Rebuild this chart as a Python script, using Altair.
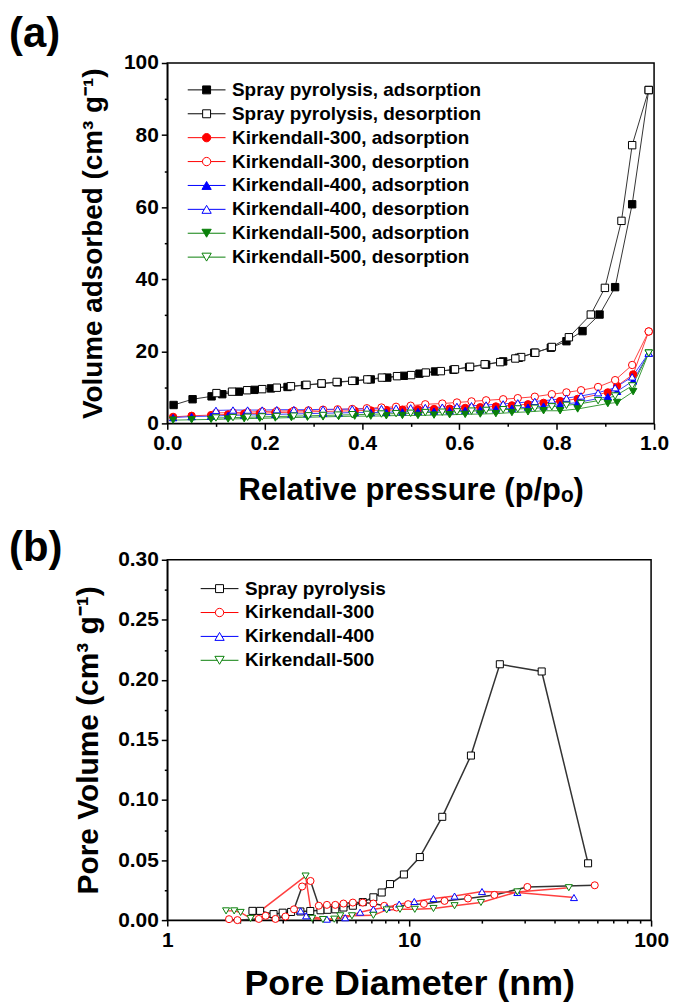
import altair as alt
import pandas as pd

FONT = "Liberation Sans"

# ---------------- Panel (a): N2 isotherms ----------------
sp_ads_p = [0.013, 0.052, 0.091, 0.113, 0.147, 0.179, 0.213, 0.247, 0.283, 0.317, 0.350, 0.385, 0.418, 0.452, 0.486,
            0.518, 0.550, 0.588, 0.620, 0.655, 0.690, 0.722, 0.754, 0.788, 0.820, 0.853, 0.888, 0.920, 0.955, 0.989]
sp_ads_v = [5.1, 6.7, 7.5, 8.1, 8.8, 9.3, 9.7, 10.1, 10.6, 11.0, 11.4, 11.8, 12.2, 12.7, 13.2,
            13.8, 14.4, 14.9, 15.6, 16.3, 17.2, 18.2, 19.6, 21.0, 22.8, 25.6, 30.2, 37.8, 60.8, 92.5]
sp_des_p = [0.989, 0.955, 0.933, 0.899, 0.870, 0.825, 0.790, 0.756, 0.727, 0.715, 0.684, 0.652, 0.622, 0.591, 0.562,
            0.531, 0.501, 0.472, 0.441, 0.411, 0.380, 0.348, 0.317, 0.286, 0.254, 0.225, 0.195, 0.164, 0.133, 0.101]
sp_des_v = [92.5, 77.2, 56.2, 37.6, 30.2, 23.9, 21.2, 19.6, 18.4, 18.0, 17.0, 16.4, 15.7, 15.0, 14.5,
            14.1, 13.4, 13.1, 12.7, 12.2, 11.8, 11.5, 11.1, 10.7, 10.3, 9.9, 9.5, 9.2, 8.8, 8.4]

k_ads_p = [0.012, 0.050, 0.090, 0.125, 0.158, 0.190, 0.222, 0.255, 0.288, 0.320, 0.352, 0.385, 0.418, 0.450, 0.483,
           0.515, 0.548, 0.580, 0.612, 0.643, 0.675, 0.708, 0.741, 0.773, 0.807, 0.843, 0.905, 0.924, 0.957, 0.989]
k300_ads_v = [1.8, 2.1, 2.3, 2.5, 2.7, 2.8, 3.0, 3.1, 3.2, 3.3, 3.4, 3.5, 3.6, 3.7, 3.8,
              3.9, 4.0, 4.1, 4.3, 4.5, 4.7, 5.0, 5.3, 5.7, 6.2, 6.8, 8.6, 10.4, 13.6, 25.5]
k400_ads_v = [1.6, 1.9, 2.0, 2.2, 2.3, 2.4, 2.5, 2.6, 2.7, 2.8, 2.9, 3.0, 3.0, 3.1, 3.2,
              3.3, 3.4, 3.5, 3.6, 3.8, 4.0, 4.2, 4.5, 4.8, 5.2, 5.8, 7.4, 8.9, 11.8, 19.5]
k500_ads_v = [0.9, 1.0, 1.1, 1.2, 1.3, 1.4, 1.5, 1.6, 1.7, 1.8, 1.9, 2.0, 2.0, 2.1, 2.2,
              2.2, 2.3, 2.4, 2.5, 2.6, 2.7, 3.0, 3.2, 3.5, 3.5, 4.0, 5.5, 5.8, 8.8, 19.5]

k_des_p = [0.989, 0.955, 0.920, 0.885, 0.850, 0.820, 0.790, 0.755, 0.720, 0.690, 0.655, 0.625, 0.595, 0.565, 0.530,
           0.500, 0.470, 0.440, 0.410, 0.380, 0.350, 0.320, 0.290, 0.260, 0.225, 0.195, 0.165, 0.135, 0.100]
k300_des_v = [25.5, 16.2, 12.0, 10.1, 9.2, 8.6, 8.1, 7.4, 7.0, 6.7, 6.4, 6.1, 5.8, 5.5, 5.3,
              4.9, 4.6, 4.4, 4.2, 4.0, 3.9, 3.8, 3.6, 3.5, 3.4, 3.3, 3.1, 3.0, 2.9]
k400_des_v = [19.5, 12.9, 9.9, 8.5, 7.6, 7.0, 6.5, 6.1, 5.7, 5.4, 5.1, 4.9, 4.7, 4.5, 4.4,
              4.3, 4.2, 4.1, 4.0, 4.0, 3.9, 3.9, 3.8, 3.8, 3.8, 3.7, 3.7, 3.7, 3.6]
k500_des_v = [19.5, 10.4, 7.6, 6.3, 5.5, 5.0, 4.6, 4.2, 4.0, 3.8, 3.6, 3.4, 3.2, 3.1, 3.0,
              2.8, 2.7, 2.6, 2.5, 2.4, 2.3, 2.2, 2.1, 2.0, 1.9, 1.8, 1.7, 1.6, 1.5]

names_a = ["Spray pyrolysis, adsorption", "Spray pyrolysis, desorption",
           "Kirkendall-300, adsorption", "Kirkendall-300, desorption",
           "Kirkendall-400, adsorption", "Kirkendall-400, desorption",
           "Kirkendall-500, adsorption", "Kirkendall-500, desorption"]

# ---------------- Panel (b): pore size distribution ----------------
sp_d = [2.25, 2.42, 2.75, 3.0, 3.25, 3.55, 3.9, 4.3, 4.6, 4.95, 5.35, 5.85, 6.43, 7.11, 7.7, 8.33, 9.51,
        11.07, 13.7, 18.0, 23.7, 35.3, 54.9]
sp_pv = [0.0077, 0.0077, 0.005, 0.0062, 0.0068, 0.0072, 0.0076, 0.0082, 0.0086, 0.009, 0.0105, 0.012, 0.015,
         0.019, 0.023, 0.030, 0.038, 0.0525, 0.086, 0.137, 0.213, 0.207, 0.0473]
k300_d = [1.8, 1.95, 2.39, 2.55, 2.8, 3.08, 3.34, 3.61, 3.91, 4.23, 4.57, 4.95, 5.35, 5.85, 6.43, 7.11, 7.89,
          8.87, 9.9, 11.5, 14.0, 17.5, 22.5, 30.8, 58.5]
k300_pv = [0.0008, 0.0, 0.001, 0.0036, 0.001, 0.003, 0.009, 0.028, 0.0326, 0.012, 0.0127, 0.0127, 0.0138, 0.0146,
           0.0146, 0.0138, 0.0119, 0.0105, 0.0133, 0.0135, 0.016, 0.018, 0.021, 0.0276, 0.029]
k400_d = [3.56, 3.75, 4.57, 5.44, 6.27, 7.11, 8.07, 9.09, 10.5, 12.6, 15.4, 20.0, 28.0, 48.0]
k400_pv = [0.0077, 0.0036, 0.0008, 0.002, 0.0066, 0.009, 0.0105, 0.0133, 0.0155, 0.018, 0.020, 0.0238, 0.023, 0.0188]
k500_d = [1.75, 1.89, 2.01, 2.21, 3.73, 3.97, 4.4, 4.9, 5.19, 5.8, 7.11, 8.07, 9.16, 10.55, 12.6, 15.4, 19.8,
          28.0, 45.7]
k500_pv = [0.0077, 0.0077, 0.0064, 0.0014, 0.0367, 0.0015, 0.0005, 0.0008, 0.0036, 0.0036, 0.004, 0.0085, 0.009,
           0.009, 0.0097, 0.012, 0.0147, 0.0235, 0.027]

names_b = ["Spray pyrolysis", "Kirkendall-300", "Kirkendall-400", "Kirkendall-500"]

# ---------------- tables ----------------
def table(groups, xname, yname):
    rows = []
    for name, xs, ys in groups:
        for i, (a, b) in enumerate(zip(xs, ys)):
            rows.append({"series": name, xname: a, yname: b, "idx": i})
    return pd.DataFrame(rows)

df_a = table([
    (names_a[0], sp_ads_p, sp_ads_v), (names_a[1], sp_des_p, sp_des_v),
    (names_a[2], k_ads_p, k300_ads_v), (names_a[3], k_des_p, k300_des_v),
    (names_a[4], k_ads_p, k400_ads_v), (names_a[5], k_des_p, k400_des_v),
    (names_a[6], k_ads_p, k500_ads_v), (names_a[7], k_des_p, k500_des_v),
], "p", "v")

df_b = table([
    (names_b[0], sp_d, sp_pv), (names_b[1], k300_d, k300_pv),
    (names_b[2], k400_d, k400_pv), (names_b[3], k500_d, k500_pv),
], "d", "pv")

# ---------------- styles ----------------
BLACK, RED, BLUE, GREEN, WHITE = "#000000", "#ff0000", "#0000ff", "#0a800a", "#ffffff"

SQ = "M-1,0H-0.21M0.21,0H1M-0.21,-0.21H0.21V0.21H-0.21Z"
CI = "M-1,0H-0.22M0.22,0H1M0.22,0A0.22,0.22,0,1,1,-0.22,0A0.22,0.22,0,1,1,0.22,0Z"
TU = "M-1,0H-0.12M0.12,0H1M0,-0.21L0.245,0.21L-0.245,0.21Z"
TD = "M-1,0H-0.12M0.12,0H1M0,0.21L0.245,-0.21L-0.245,-0.21Z"

a_stroke = [BLACK, BLACK, RED, RED, BLUE, BLUE, GREEN, GREEN]
a_line = ["#333333", "#333333", "#ff4040", "#ff4040", "#4040ff", "#4040ff", "#3a9a3a", "#3a9a3a"]
a_fill = [BLACK, WHITE, RED, WHITE, BLUE, WHITE, GREEN, WHITE]
a_shape = ["square", "square", "circle", "circle", "triangle-up", "triangle-up", "triangle-down", "triangle-down"]
a_legend_shape = [SQ, SQ, CI, CI, TU, TU, TD, TD]

b_stroke = [BLACK, RED, BLUE, GREEN]
b_fill = [WHITE, WHITE, WHITE, WHITE]
b_shape = ["square", "circle", "triangle-up", "triangle-down"]
b_legend_shape = [SQ, CI, TU, TD]


def panel(df, xf, yf, names, line_cols, stroke_cols, fill_cols, shapes, leg_shapes,
          xscale, yscale, xmaj, xmin, ymaj, ymin, xfmt, yfmt, xtitle, ytitle,
          lw, msize, leg_x, leg_y, w, h, label, title_offset, xtfs, ytfs, xtp, ytp):
    major_x = alt.Axis(values=xmaj, format=xfmt, title=xtitle, orient="bottom", tickSize=6,
                       labelPadding=3, titlePadding=xtp, labelFontSize=21, titleFontSize=xtfs,
                       labelFlush=False)
    major_y = alt.Axis(values=ymaj, format=yfmt, title=ytitle, orient="left", tickSize=6,
                       labelPadding=3, titlePadding=ytp, labelFontSize=21, titleFontSize=ytfs,
                       labelFlush=False)
    minor_x = alt.Axis(values=xmin, labels=False, title=None, domain=False, orient="bottom", tickSize=3)
    minor_y = alt.Axis(values=ymin, labels=False, title=None, domain=False, orient="left", tickSize=3)

    lines = alt.Chart(df).mark_line(strokeWidth=lw).encode(
        x=alt.X(f"{xf}:Q", scale=xscale, axis=major_x),
        y=alt.Y(f"{yf}:Q", scale=yscale, axis=major_y),
        color=alt.Color("series:N", scale=alt.Scale(domain=names, range=line_cols), legend=None),
        order="idx:Q",
    )
    pts = alt.Chart(df).mark_point(filled=True, opacity=1, size=msize, strokeWidth=1).encode(
        x=alt.X(f"{xf}:Q", scale=xscale, axis=minor_x),
        y=alt.Y(f"{yf}:Q", scale=yscale, axis=minor_y),
        shape=alt.Shape("series:N", scale=alt.Scale(domain=names, range=shapes), legend=None),
        fill=alt.Fill("series:N", scale=alt.Scale(domain=names, range=fill_cols), legend=None),
        stroke=alt.Stroke("series:N", scale=alt.Scale(domain=names, range=stroke_cols), legend=None),
    )
    leg = alt.Legend(title=None, orient="none", legendX=leg_x, legendY=leg_y, symbolSize=1444,
                     symbolStrokeWidth=1, labelFontSize=19, labelFont=FONT, labelFontWeight="bold",
                     labelColor="black", labelOffset=6, rowPadding=0, clipHeight=24, padding=0,
                     labelLimit=500)
    legend_layer = alt.Chart(df).transform_filter("false").mark_point(
        filled=True, opacity=1, size=1444, strokeWidth=1).encode(
        shape=alt.Shape("series:N", scale=alt.Scale(domain=names, range=leg_shapes), legend=leg),
        fill=alt.Fill("series:N", scale=alt.Scale(domain=names, range=fill_cols), legend=leg),
        stroke=alt.Stroke("series:N", scale=alt.Scale(domain=names, range=stroke_cols), legend=leg),
    )
    return alt.layer(lines, pts, legend_layer).resolve_scale(
        shape="independent", fill="independent", stroke="independent"
    ).resolve_axis(x="independent", y="independent").properties(
        width=w, height=h,
        title=alt.TitleParams(label, anchor="start", frame="group", dx=-159, fontSize=42,
                              font=FONT, fontWeight="bold", color="black", offset=title_offset),
    )


chart_a = panel(
    df_a, "p", "v", names_a, a_line, a_stroke, a_fill, a_shape, a_legend_shape,
    alt.Scale(domain=[0, 1], nice=False, zero=False), alt.Scale(domain=[0, 100], nice=False),
    [0, 0.2, 0.4, 0.6, 0.8, 1.0], [0.1, 0.3, 0.5, 0.7, 0.9],
    [0, 20, 40, 60, 80, 100], [10, 30, 50, 70, 90], ".1f", "d",
    "Relative pressure (p/pₒ)", "Volume adsorbed (cm³ g⁻¹)",
    1, 55, 20, 15, 489, 362, "(a)", -4, 31, 28, 22, 16,
)

chart_b = panel(
    df_b, "d", "pv", names_b, b_stroke, b_stroke, b_fill, b_shape, b_legend_shape,
    alt.Scale(type="log", domain=[1, 100], nice=False), alt.Scale(domain=[0, 0.30], nice=False),
    [1, 10, 100], [2, 3, 4, 5, 6, 7, 8, 9, 20, 30, 40, 50, 60, 70, 80, 90],
    [0, 0.05, 0.10, 0.15, 0.20, 0.25, 0.30], [0.025, 0.075, 0.125, 0.175, 0.225, 0.275], "d", ".2f",
    "Pore Diameter (nm)", "Pore Volume (cm³ g⁻¹)",
    1.5, 50, 33, 17, 486, 362, "(b)", -21, 36, 30, 17, 14,
)

chart = alt.vconcat(chart_a, chart_b, spacing=20).properties(
    padding={"left": 0, "top": 2, "right": 0, "bottom": 0}
).configure_axis(
    labelFont=FONT, labelFontWeight="bold", labelColor="black",
    titleFont=FONT, titleFontWeight="bold", titleColor="black",
    domainColor="black", tickColor="black", domainWidth=1.5, tickWidth=1.5, grid=False,
).configure_view(stroke="black", strokeWidth=1.5)

chart.save("out.html", embed_options={"renderer": "svg", "actions": False})
